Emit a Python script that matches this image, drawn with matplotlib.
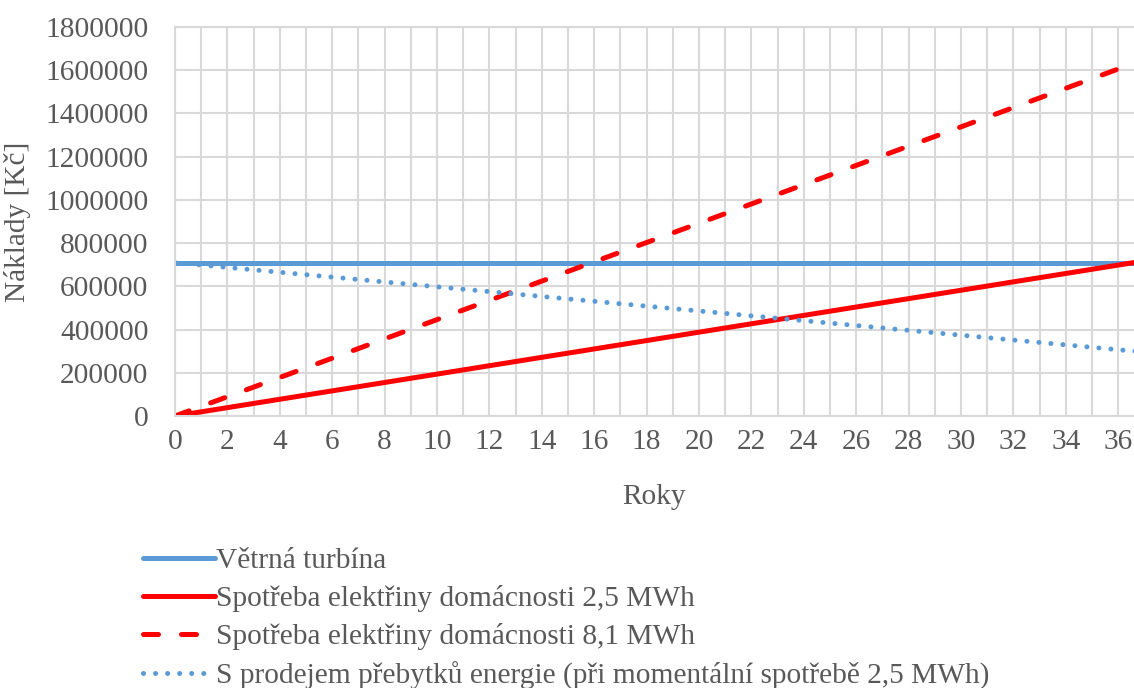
import matplotlib.pyplot as plt
from matplotlib.ticker import MultipleLocator, StrMethodFormatter

# %%
years = list(range(0, 38))
turbina = [710000] * 38
spotreba_25 = [
    0, 19400, 38800, 58200, 77600, 97000, 116400, 135800, 155200, 174600,
    194000, 213400, 232800, 252200, 271600, 291000, 310400, 329800, 349200, 368600,
    388000, 407400, 426800, 446200, 465600, 485000, 504400, 523800, 543200, 562600,
    582000, 601400, 620800, 640200, 659600, 679000, 698400, 717800,
]
spotreba_81 = [
    0, 44600, 89200, 133800, 178400, 223000, 267600, 312200, 356800, 401400,
    446000, 490600, 535200, 579800, 624400, 669000, 713600, 758200, 802800, 847400,
    892000, 936600, 981200, 1025800, 1070400, 1115000, 1159600, 1204200, 1248800, 1293400,
    1338000, 1382600, 1427200, 1471800, 1516400, 1561000, 1605600, 1650200,
]
prodej = [
    710000, 698800, 687600, 676400, 665200, 654000, 642800, 631600, 620400, 609200,
    598000, 586800, 575600, 564400, 553200, 542000, 530800, 519600, 508400, 497200,
    486000, 474800, 463600, 452400, 441200, 430000, 418800, 407600, 396400, 385200,
    374000, 362800, 351600, 340400, 329200, 318000, 306800, 295600,
]
labels = [
    "Větrná turbína",
    "Spotřeba elektřiny domácnosti 2,5 MWh",
    "Spotřeba elektřiny domácnosti 8,1 MWh",
    "S prodejem přebytků energie (při momentální spotřebě 2,5 MWh)",
]

# %%
plt.rcParams["font.family"] = ["Liberation Serif", "DejaVu Serif"]
TEXT = "#595959"
GRID = "#D9D9D9"
BLUE = "#5B9BD5"
RED = "#FF0000"
FS = 21.2
LW = 3.6

fig = plt.figure(figsize=(11.34, 6.88), dpi=100)
ax = fig.add_axes([0.1543, 0.3953, 0.8457, 0.5655])

ax.plot(years, turbina, color=BLUE, lw=LW, label=labels[0], solid_capstyle="round")
ax.plot(years, spotreba_25, color=RED, lw=LW, label=labels[1], solid_capstyle="round")
ax.plot(years, spotreba_81, color=RED, lw=LW, label=labels[2],
        dashes=(3.0, 4.6), dash_capstyle="round")
ax.plot(years, prodej, color=BLUE, lw=LW, label=labels[3],
        dashes=(0.01, 2.4), dash_capstyle="round")

ax.set_xlim(0, 36.6)
ax.set_ylim(0, 1800000)
ax.xaxis.set_major_locator(MultipleLocator(2))
ax.xaxis.set_minor_locator(MultipleLocator(1))
ax.yaxis.set_major_locator(MultipleLocator(200000))
ax.yaxis.set_major_formatter(StrMethodFormatter("{x:.0f}"))
ax.grid(which="both", axis="x", color=GRID, lw=1.5, zorder=0)
ax.grid(which="major", axis="y", color=GRID, lw=1.5, zorder=0)
ax.set_axisbelow(True)
for s in ax.spines.values():
    s.set_color(GRID)
    s.set_linewidth(1.5)
ax.spines["right"].set_visible(False)

ax.tick_params(which="both", length=0, labelsize=FS, labelcolor=TEXT)
ax.tick_params(axis="y", pad=19)
ax.tick_params(axis="x", pad=9)
ax.set_xlabel("Roky", fontsize=FS, color=TEXT, labelpad=21)
ax.set_ylabel("Náklady [Kč]", fontsize=FS, color=TEXT, labelpad=10)

leg = fig.legend(
    loc="upper left",
    bbox_to_anchor=(0.113, 0.226),
    frameon=False,
    fontsize=FS,
    handlelength=2.45,
    handletextpad=0.05,
    labelspacing=0.38,
    borderpad=0,
)
for t in leg.get_texts():
    t.set_color(TEXT)

fig.savefig("out.png", dpi=100)
